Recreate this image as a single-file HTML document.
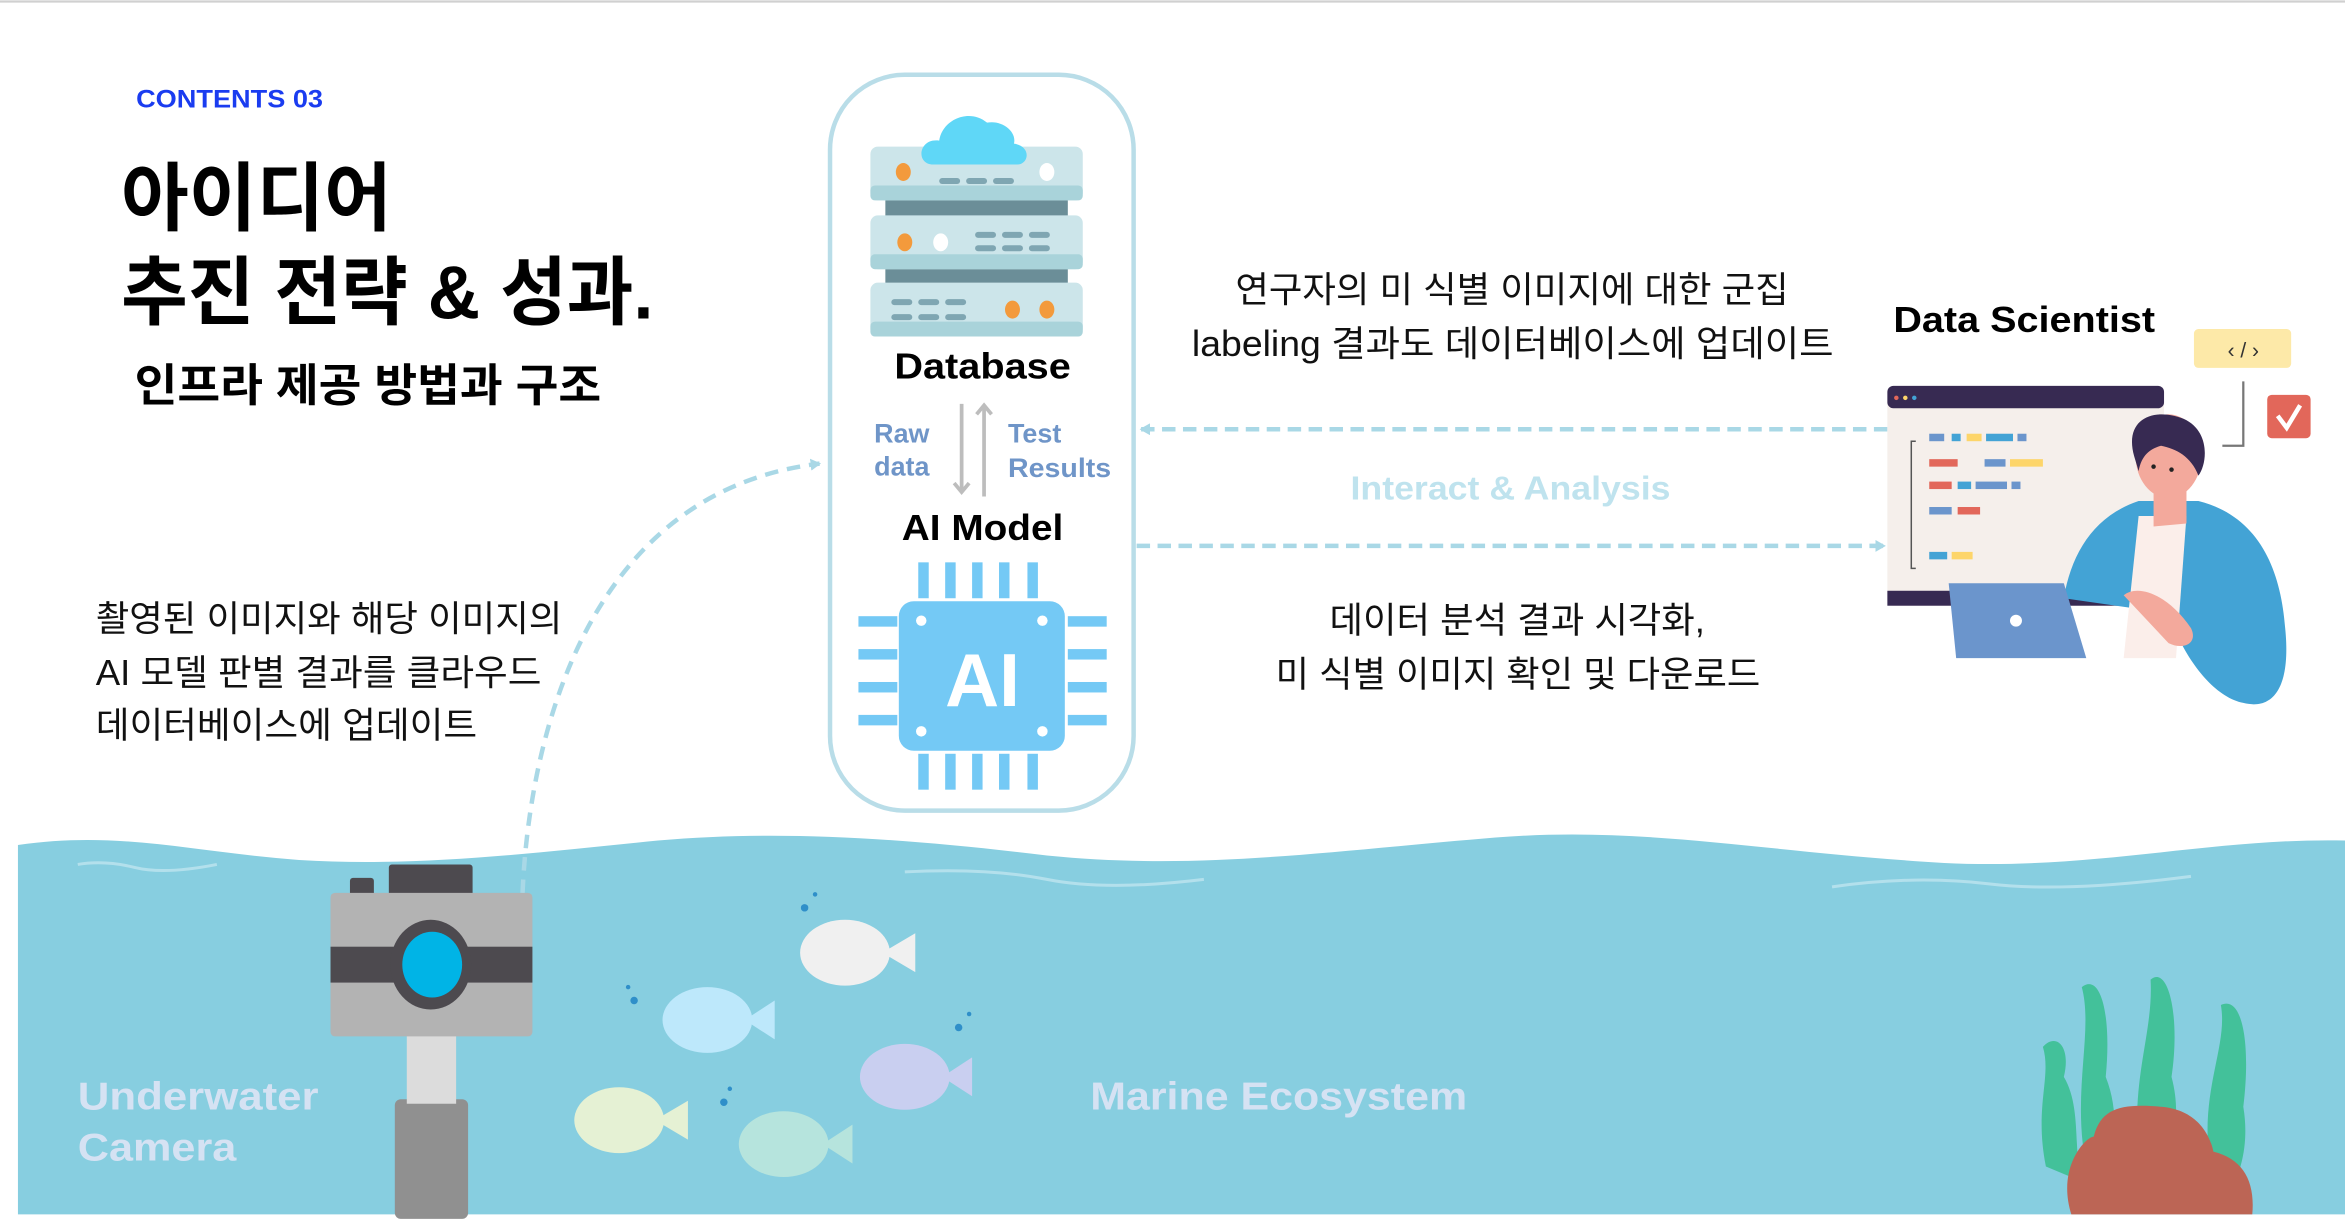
<!DOCTYPE html>
<html><head><meta charset="utf-8"><style>
html,body{margin:0;padding:0;background:#fff;}
svg{display:block;}
text{font-family:"Liberation Sans","Noto Sans CJK KR",sans-serif;}
</style></head><body>
<svg width="2345" height="1224" viewBox="0 0 1568 818.4" xmlns="http://www.w3.org/2000/svg">
<defs>
<marker id="ah" markerWidth="8" markerHeight="8" refX="6" refY="4" orient="auto" markerUnits="userSpaceOnUse"><path d="M0,0 L7,4 L0,8 Z" fill="#a9d8e6"/></marker>
<marker id="ag" markerWidth="12" markerHeight="12" refX="6" refY="6" orient="auto" markerUnits="userSpaceOnUse"><path d="M1,1 L7,6 L1,11" fill="none" stroke="#bdbdbd" stroke-width="2.5"/></marker>
</defs>
<line x1="0" y1="1" x2="1568" y2="1" stroke="#d0d0d0" stroke-width="1.5"/>
<text x="91" y="72" font-size="17" font-weight="bold" fill="#1a3cf0" textLength="125" lengthAdjust="spacingAndGlyphs">CONTENTS 03</text>
<text x="81" y="150" font-size="50" font-weight="bold" fill="#000" textLength="181" lengthAdjust="spacingAndGlyphs">아이디어</text>
<text x="81" y="213" font-size="50" font-weight="bold" fill="#000" textLength="356" lengthAdjust="spacingAndGlyphs">추진 전략 &amp; 성과.</text>
<text x="90" y="268" font-size="30" font-weight="bold" fill="#000" textLength="312" lengthAdjust="spacingAndGlyphs">인프라 제공 방법과 구조</text>

<g font-size="24" fill="#111">
<text x="64" y="422" textLength="312" lengthAdjust="spacingAndGlyphs">촬영된 이미지와 해당 이미지의</text>
<text x="64" y="458" textLength="298" lengthAdjust="spacingAndGlyphs">AI 모델 판별 결과를 클라우드</text>
<text x="64" y="493" textLength="255" lengthAdjust="spacingAndGlyphs">데이터베이스에 업데이트</text>
</g>

<!-- water -->
<path d="M12,565 C80,555 130,570 200,575 C280,580 360,570 440,562 C520,555 600,560 700,572 C800,582 880,570 1000,560 C1100,552 1180,570 1300,577 C1400,582 1480,560 1568,562 L1568,812 L12,812 Z" fill="#87cee0"/>
<path d="M52,578 Q70,575 90,580 T145,578" stroke="#b3e0ec" stroke-width="2" fill="none"/>
<path d="M605,583 Q660,580 700,588 T805,588" stroke="#b3e0ec" stroke-width="2" fill="none"/>
<path d="M1225,593 Q1280,585 1330,591 T1465,586" stroke="#b3e0ec" stroke-width="2" fill="none"/>

<path d="M349,612 C350,520 380,330 548,310" fill="none" stroke="#a9d8e6" stroke-width="3" stroke-dasharray="9,6" marker-end="url(#ah)"/>

<rect x="555" y="50" width="203" height="492" rx="50" fill="#fff" stroke="#b9dde8" stroke-width="3"/>
<g>
<rect x="592" y="132" width="122" height="14" fill="#6b8e98"/>
<rect x="592" y="178" width="122" height="14" fill="#6b8e98"/>
<rect x="582" y="98" width="142" height="36" rx="5" fill="#cce5ea"/><rect x="582" y="124" width="142" height="10" rx="3" fill="#a9d3da"/>
<rect x="582" y="144" width="142" height="36" rx="5" fill="#cce5ea"/><rect x="582" y="170" width="142" height="10" rx="3" fill="#a9d3da"/>
<rect x="582" y="189" width="142" height="36" rx="5" fill="#cce5ea"/><rect x="582" y="215" width="142" height="10" rx="3" fill="#a9d3da"/>
<ellipse cx="604" cy="115" rx="5" ry="6" fill="#f39a3c"/><ellipse cx="700" cy="115" rx="5" ry="6" fill="#fff"/>
<g fill="#7fa6b2"><rect x="628" y="119" width="14" height="4" rx="2"/><rect x="646" y="119" width="14" height="4" rx="2"/><rect x="664" y="119" width="14" height="4" rx="2"/>
<rect x="652" y="155" width="14" height="4" rx="2"/><rect x="670" y="155" width="14" height="4" rx="2"/><rect x="688" y="155" width="14" height="4" rx="2"/>
<rect x="652" y="164" width="14" height="4" rx="2"/><rect x="670" y="164" width="14" height="4" rx="2"/><rect x="688" y="164" width="14" height="4" rx="2"/>
<rect x="596" y="200" width="14" height="4" rx="2"/><rect x="614" y="200" width="14" height="4" rx="2"/><rect x="632" y="200" width="14" height="4" rx="2"/>
<rect x="596" y="210" width="14" height="4" rx="2"/><rect x="614" y="210" width="14" height="4" rx="2"/><rect x="632" y="210" width="14" height="4" rx="2"/></g>
<ellipse cx="605" cy="162" rx="5" ry="6" fill="#f39a3c"/><ellipse cx="629" cy="162" rx="5" ry="6" fill="#fff"/>
<ellipse cx="677" cy="207" rx="5" ry="6" fill="#f39a3c"/><ellipse cx="700" cy="207" rx="5" ry="6" fill="#f39a3c"/>
<path d="M624,110 C612,110 614,92 628,94 C630,80 648,72 660,82 C670,80 680,88 678,96 C690,98 688,110 680,110 Z" fill="#5fd7f7"/>
</g>
<text x="598" y="253" font-size="24" font-weight="bold" fill="#000" textLength="118" lengthAdjust="spacingAndGlyphs">Database</text>
<line x1="643" y1="270" x2="643" y2="328" stroke="#bdbdbd" stroke-width="2.5" marker-end="url(#ag)"/>
<line x1="658" y1="332" x2="658" y2="272" stroke="#bdbdbd" stroke-width="2.5" marker-end="url(#ag)"/>
<g font-size="18" font-weight="bold" fill="#6f95c8"><text x="603" y="296" text-anchor="middle">Raw</text><text x="603" y="318" text-anchor="middle">data</text><text x="674" y="296">Test</text><text x="674" y="319" textLength="69" lengthAdjust="spacingAndGlyphs">Results</text></g>
<text x="603" y="361" font-size="24" font-weight="bold" fill="#000" textLength="108" lengthAdjust="spacingAndGlyphs">AI Model</text>
<g fill="#74c9f5">
<rect x="614" y="376" width="7" height="24"/><rect x="632" y="376" width="7" height="24"/><rect x="650" y="376" width="7" height="24"/><rect x="668" y="376" width="7" height="24"/><rect x="687" y="376" width="7" height="24"/>
<rect x="614" y="504" width="7" height="24"/><rect x="632" y="504" width="7" height="24"/><rect x="650" y="504" width="7" height="24"/><rect x="668" y="504" width="7" height="24"/><rect x="687" y="504" width="7" height="24"/>
<rect x="574" y="412" width="26" height="7"/><rect x="574" y="434" width="26" height="7"/><rect x="574" y="456" width="26" height="7"/><rect x="574" y="478" width="26" height="7"/>
<rect x="714" y="412" width="26" height="7"/><rect x="714" y="434" width="26" height="7"/><rect x="714" y="456" width="26" height="7"/><rect x="714" y="478" width="26" height="7"/>
<rect x="601" y="402" width="111" height="100" rx="10"/></g>
<g fill="#fff"><circle cx="616" cy="415" r="3.5"/><circle cx="697" cy="415" r="3.5"/><circle cx="616" cy="489" r="3.5"/><circle cx="697" cy="489" r="3.5"/></g>
<text x="657" y="472" font-size="50" font-weight="bold" fill="#fff" text-anchor="middle">AI</text>

<g font-size="24" fill="#111">
<text x="826" y="202" textLength="370" lengthAdjust="spacingAndGlyphs">연구자의 미 식별 이미지에 대한 군집</text>
<text x="797" y="238" textLength="429" lengthAdjust="spacingAndGlyphs">labeling 결과도 데이터베이스에 업데이트</text>
<text x="889" y="423" textLength="251" lengthAdjust="spacingAndGlyphs">데이터 분석 결과 시각화,</text>
<text x="853" y="459" textLength="324" lengthAdjust="spacingAndGlyphs">미 식별 이미지 확인 및 다운로드</text>
</g>
<line x1="1262" y1="287" x2="763" y2="287" stroke="#a9d8e6" stroke-width="3" stroke-dasharray="9,5" marker-end="url(#ah)"/>
<line x1="760" y1="365" x2="1260" y2="365" stroke="#a9d8e6" stroke-width="3" stroke-dasharray="9,5" marker-end="url(#ah)"/>
<text x="903" y="334" font-size="22" font-weight="bold" fill="#bfe3ee" textLength="214" lengthAdjust="spacingAndGlyphs">Interact &amp; Analysis</text>

<text x="1266" y="222" font-size="24" font-weight="bold" fill="#000" textLength="175" lengthAdjust="spacingAndGlyphs">Data Scientist</text>
<rect x="1467" y="220" width="65" height="26" rx="3" fill="#fde9a8"/>
<text x="1500" y="239" font-size="14" text-anchor="middle" fill="#333">‹ / ›</text>
<path d="M1500,255 L1500,298 L1486,298" stroke="#777" stroke-width="1.5" fill="none"/>
<rect x="1516" y="264" width="29" height="29" rx="3" fill="#e2675a"/>
<path d="M1523,278 L1529,286 L1538,271" stroke="#fff" stroke-width="3" fill="none"/>
<rect x="1262" y="258" width="185" height="147" rx="4" fill="#f5efeb"/>
<rect x="1262" y="258" width="185" height="15" rx="4" fill="#372a52"/>
<rect x="1262" y="395" width="185" height="10" fill="#372a52"/>
<circle cx="1268" cy="266" r="1.5" fill="#e2675a"/><circle cx="1274" cy="266" r="1.5" fill="#fdd56a"/><circle cx="1280" cy="266" r="1.5" fill="#43a3d5"/>
<path d="M1281,295 L1278,295 L1278,380 L1281,380" stroke="#555" stroke-width="1" fill="none"/>
<g><rect x="1290" y="290" width="10" height="5" fill="#6b95cc"/><rect x="1305" y="290" width="6" height="5" fill="#43a3d5"/><rect x="1315" y="290" width="10" height="5" fill="#fdd56a"/><rect x="1328" y="290" width="18" height="5" fill="#43a3d5"/><rect x="1349" y="290" width="6" height="5" fill="#6b95cc"/>
<rect x="1290" y="307" width="19" height="5" fill="#e2675a"/><rect x="1327" y="307" width="14" height="5" fill="#6b95cc"/><rect x="1344" y="307" width="22" height="5" fill="#fdd56a"/>
<rect x="1290" y="322" width="15" height="5" fill="#e2675a"/><rect x="1309" y="322" width="9" height="5" fill="#43a3d5"/><rect x="1321" y="322" width="21" height="5" fill="#6b95cc"/><rect x="1345" y="322" width="6" height="5" fill="#6b95cc"/>
<rect x="1290" y="339" width="15" height="5" fill="#6b95cc"/><rect x="1309" y="339" width="15" height="5" fill="#e2675a"/>
<rect x="1290" y="369" width="12" height="5" fill="#43a3d5"/><rect x="1305" y="369" width="14" height="5" fill="#fdd56a"/></g>
<path d="M1380,400 C1385,370 1400,345 1430,335 L1470,335 C1510,345 1525,380 1528,420 C1532,460 1520,475 1500,470 C1480,466 1460,440 1450,410 Z" fill="#43a3d5"/>
<path d="M1430,345 L1462,345 L1455,440 L1420,440 Z" fill="#fbeeea"/>
<path d="M1440,320 L1462,318 L1462,350 L1440,352 Z" fill="#f3a99c"/>
<ellipse cx="1450" cy="305" rx="22" ry="28" fill="#f3a99c"/>
<path d="M1427,305 C1420,280 1440,272 1460,280 C1478,288 1476,310 1470,318 C1465,305 1455,300 1445,298 C1438,300 1432,304 1430,315 Z" fill="#372a52"/>
<circle cx="1440" cy="312" r="1.5" fill="#222"/><circle cx="1452" cy="314" r="1.5" fill="#222"/>
<path d="M1303,390 L1380,390 L1395,440 L1308,440 Z" fill="#6b95cc"/>
<circle cx="1348" cy="415" r="4" fill="#fff"/>
<path d="M1420,398 C1430,390 1450,398 1465,420 C1470,430 1460,435 1450,430 Z" fill="#f3a99c"/>

<rect x="264" y="735" width="49" height="80" rx="4" fill="#909090"/>
<rect x="272" y="690" width="33" height="48" fill="#dcdcdc"/>
<rect x="234" y="587" width="16" height="14" rx="2" fill="#4d4a4f"/>
<rect x="260" y="578" width="56" height="23" rx="2" fill="#4d4a4f"/>
<rect x="221" y="597" width="135" height="96" rx="3" fill="#b3b3b3"/>
<rect x="221" y="633" width="135" height="24" fill="#4d4a4f"/>
<ellipse cx="288" cy="645" rx="27" ry="30" fill="#4d4a4f"/>
<ellipse cx="289" cy="645" rx="20" ry="22" fill="#00b4e6"/>
<g font-size="26" font-weight="bold" fill="#d5e2f3"><text x="52" y="742" textLength="161" lengthAdjust="spacingAndGlyphs">Underwater</text><text x="52" y="776" textLength="106" lengthAdjust="spacingAndGlyphs">Camera</text><text x="729" y="742" textLength="252" lengthAdjust="spacingAndGlyphs">Marine Ecosystem</text></g>

<g>
<ellipse cx="565" cy="637" rx="30" ry="22" fill="#f0f0f0"/><path d="M590,637 L612,624 L612,650 Z" fill="#f0f0f0"/>
<ellipse cx="473" cy="682" rx="30" ry="22" fill="#bde8fb"/><path d="M498,682 L518,669 L518,695 Z" fill="#bde8fb"/>
<ellipse cx="605" cy="720" rx="30" ry="22" fill="#c9cff0"/><path d="M630,720 L650,707 L650,733 Z" fill="#c9cff0"/>
<ellipse cx="414" cy="749" rx="30" ry="22" fill="#e5f1d4"/><path d="M438,749 L460,736 L460,762 Z" fill="#e5f1d4"/>
<ellipse cx="524" cy="765" rx="30" ry="22" fill="#b6e4dd"/><path d="M550,765 L570,752 L570,778 Z" fill="#b6e4dd"/>
<g fill="#2f8fc9"><circle cx="538" cy="607" r="2.5"/><circle cx="545" cy="598" r="1.5"/><circle cx="424" cy="669" r="2.5"/><circle cx="420" cy="660" r="1.5"/><circle cx="641" cy="687" r="2.5"/><circle cx="648" cy="678" r="1.5"/><circle cx="484" cy="737" r="2.5"/><circle cx="488" cy="728" r="1.5"/></g>
</g>

<g fill="#43c19a">
<path d="M1368,780 C1360,740 1372,720 1366,700 C1375,690 1385,700 1380,720 C1392,740 1386,770 1392,790 Z"/>
<path d="M1395,780 C1385,730 1400,690 1392,660 C1405,650 1412,680 1408,720 C1420,750 1410,780 1412,800 Z"/>
<path d="M1430,770 C1425,720 1440,690 1438,655 C1450,645 1458,680 1452,720 C1460,750 1450,770 1448,790 Z"/>
<path d="M1478,780 C1470,730 1490,700 1485,672 C1500,665 1505,700 1500,740 C1505,770 1495,790 1490,800 Z"/>
</g>
<path d="M1385,812 C1375,780 1395,760 1400,760 C1405,740 1420,738 1445,740 C1470,742 1478,760 1480,770 C1500,775 1508,790 1506,812 Z" fill="#bc6555"/>
</svg>
</body></html>
